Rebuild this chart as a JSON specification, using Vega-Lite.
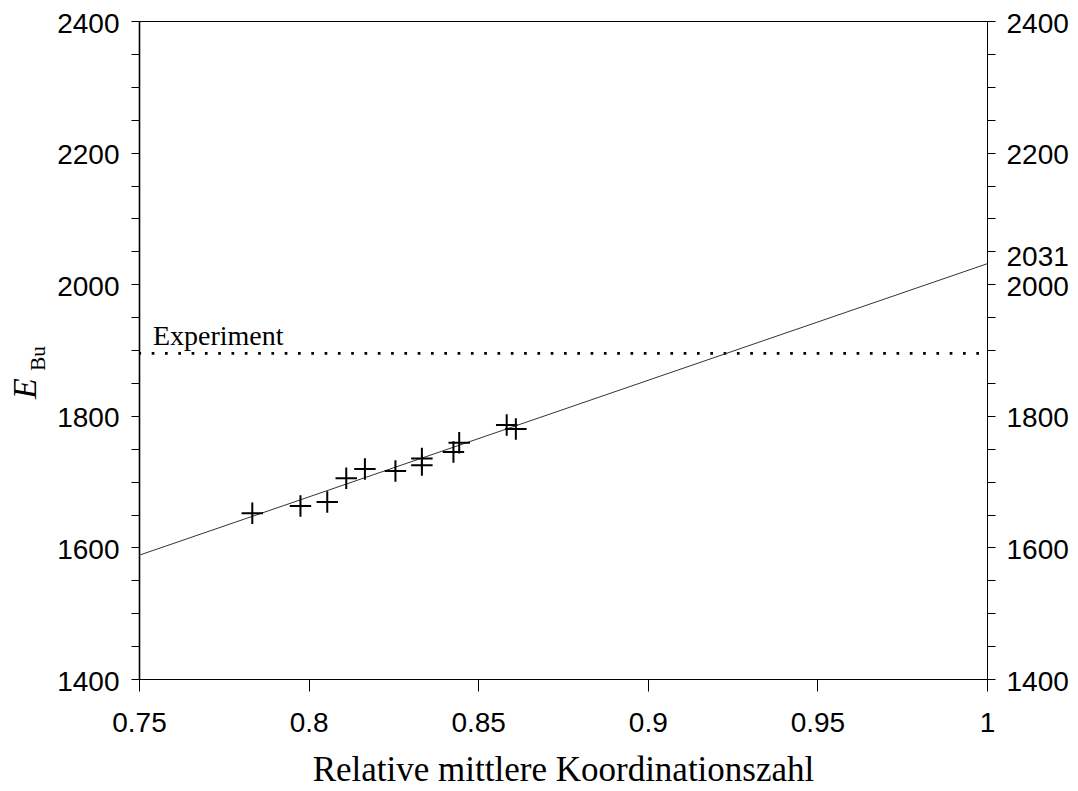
{
  "$schema": "https://vega.github.io/schema/vega-lite/v6.json",
  "width": 848,
  "height": 658,
  "autosize": {"type": "none"},
  "padding": {"left": 139, "top": 21, "right": 91, "bottom": 112},
  "background": "white",
  "config": {
    "view": {"stroke": null},
    "axis": {
      "grid": false,
      "domainColor": "black",
      "tickColor": "black",
      "labelColor": "black",
      "titleColor": "black",
      "labelFont": "Liberation Sans",
      "labelFontSize": 28,
      "titleFont": "Liberation Serif",
      "titleFontWeight": "normal"
    }
  },
  "datasets": {
    "points": [
      {"z": 0.7834, "e": 1652},
      {"z": 0.7976, "e": 1663},
      {"z": 0.8055, "e": 1669},
      {"z": 0.8111, "e": 1705},
      {"z": 0.8166, "e": 1719},
      {"z": 0.8256, "e": 1716},
      {"z": 0.8334, "e": 1735},
      {"z": 0.8334, "e": 1725},
      {"z": 0.8427, "e": 1745},
      {"z": 0.8444, "e": 1759},
      {"z": 0.8584, "e": 1786},
      {"z": 0.8611, "e": 1780}
    ],
    "fit": [
      {"z": 0.75, "e": 1588},
      {"z": 1.0, "e": 2031}
    ],
    "exp": [
      {"z": 0.75, "e": 1895},
      {"z": 1.0, "e": 1895}
    ],
    "explabel": [
      {"z": 0.7541, "e": 1907, "text": "Experiment"}
    ],
    "sub": [
      {"z": 0.75, "e": 1887, "text": "Bu"}
    ]
  },
  "layer": [
    {
      "data": {"name": "exp"},
      "mark": {"type": "line", "color": "black", "strokeWidth": 2.7, "strokeDash": [2.7, 10.6], "strokeDashOffset": 0.6, "strokeCap": "butt"},
      "encoding": {
        "x": {
          "field": "z", "type": "quantitative",
          "scale": {"domain": [0.75, 1], "nice": false, "zero": false},
          "axis": {
            "orient": "bottom",
            "values": [0.75, 0.8, 0.85, 0.9, 0.95, 1],
            "format": ".2~f",
            "tickSize": 12,
            "tickWidth": 1,
            "domainWidth": 1,
            "labelPadding": 18,
            "labelFlush": false,
            "title": "Relative mittlere Koordinationszahl",
            "titleFontSize": 35,
            "titleX": 424,
            "titleY": 101,
            "titleAlign": "center",
            "titleBaseline": "alphabetic"
          }
        },
        "y": {
          "field": "e", "type": "quantitative",
          "scale": {"domain": [1400, 2400], "nice": false, "zero": false},
          "axis": {
            "orient": "left",
            "values": [1400, 1450, 1500, 1550, 1600, 1650, 1700, 1750, 1800, 1850, 1900, 1950, 2000, 2050, 2100, 2150, 2200, 2250, 2300, 2350, 2400],
            "format": "d",
            "labelExpr": "datum.value % 200 == 0 ? datum.label : ''",
            "tickSize": 8,
            "tickWidth": 1,
            "domainWidth": 1.6,
            "labelPadding": 12,
            "labelOffset": 3,
            "labelFlush": false,
            "labelOverlap": false,
            "title": "E",
            "titleFontStyle": "italic",
            "titleFontSize": 34,
            "titleAngle": 270,
            "titleX": -104,
            "titleY": 367,
            "titleAlign": "center",
            "titleBaseline": "alphabetic"
          }
        }
      }
    },
    {
      "data": {"name": "fit"},
      "mark": {"type": "line", "color": "#333333", "strokeWidth": 1},
      "encoding": {
        "x": {
          "field": "z", "type": "quantitative",
          "axis": {"orient": "top", "ticks": false, "labels": false, "title": null, "domainWidth": 1}
        },
        "y": {
          "field": "e", "type": "quantitative",
          "axis": {
            "orient": "right",
            "values": [1400, 1450, 1500, 1550, 1600, 1650, 1700, 1750, 1800, 1850, 1900, 1950, 2000, 2031, 2050, 2100, 2150, 2200, 2250, 2300, 2350, 2400],
            "format": "d",
            "labelExpr": "(datum.value % 200 == 0 || datum.value == 2031) ? datum.label : ''",
            "tickSize": 8,
            "tickWidth": 1,
            "tickOpacity": {"condition": {"test": "datum.value == 2031", "value": 0}, "value": 1},
            "labelOffset": {"condition": {"test": "datum.value == 2031", "value": -6}, "value": 3},
            "domainWidth": 1,
            "labelPadding": 11,
            "labelFlush": false,
            "labelOverlap": false,
            "title": null
          }
        }
      }
    },
    {
      "data": {"name": "points"},
      "mark": {"type": "point", "shape": "M-1,0H1M0,-1V1", "size": 460, "filled": false, "stroke": "black", "strokeWidth": 2, "opacity": 1},
      "encoding": {
        "x": {"field": "z", "type": "quantitative", "axis": null},
        "y": {"field": "e", "type": "quantitative", "axis": null}
      }
    },
    {
      "data": {"name": "explabel"},
      "mark": {"type": "text", "font": "Liberation Serif", "fontSize": 28, "align": "left", "baseline": "alphabetic", "color": "black"},
      "encoding": {
        "x": {"field": "z", "type": "quantitative", "axis": null},
        "y": {"field": "e", "type": "quantitative", "axis": null},
        "text": {"field": "text"}
      }
    },
    {
      "data": {"name": "sub"},
      "mark": {"type": "text", "font": "Liberation Serif", "fontSize": 21, "align": "center", "baseline": "alphabetic", "angle": 270, "dy": -94, "color": "black"},
      "encoding": {
        "x": {"field": "z", "type": "quantitative", "axis": null},
        "y": {"field": "e", "type": "quantitative", "axis": null},
        "text": {"field": "text"}
      }
    }
  ],
  "resolve": {"axis": {"x": "independent", "y": "independent"}}
}
